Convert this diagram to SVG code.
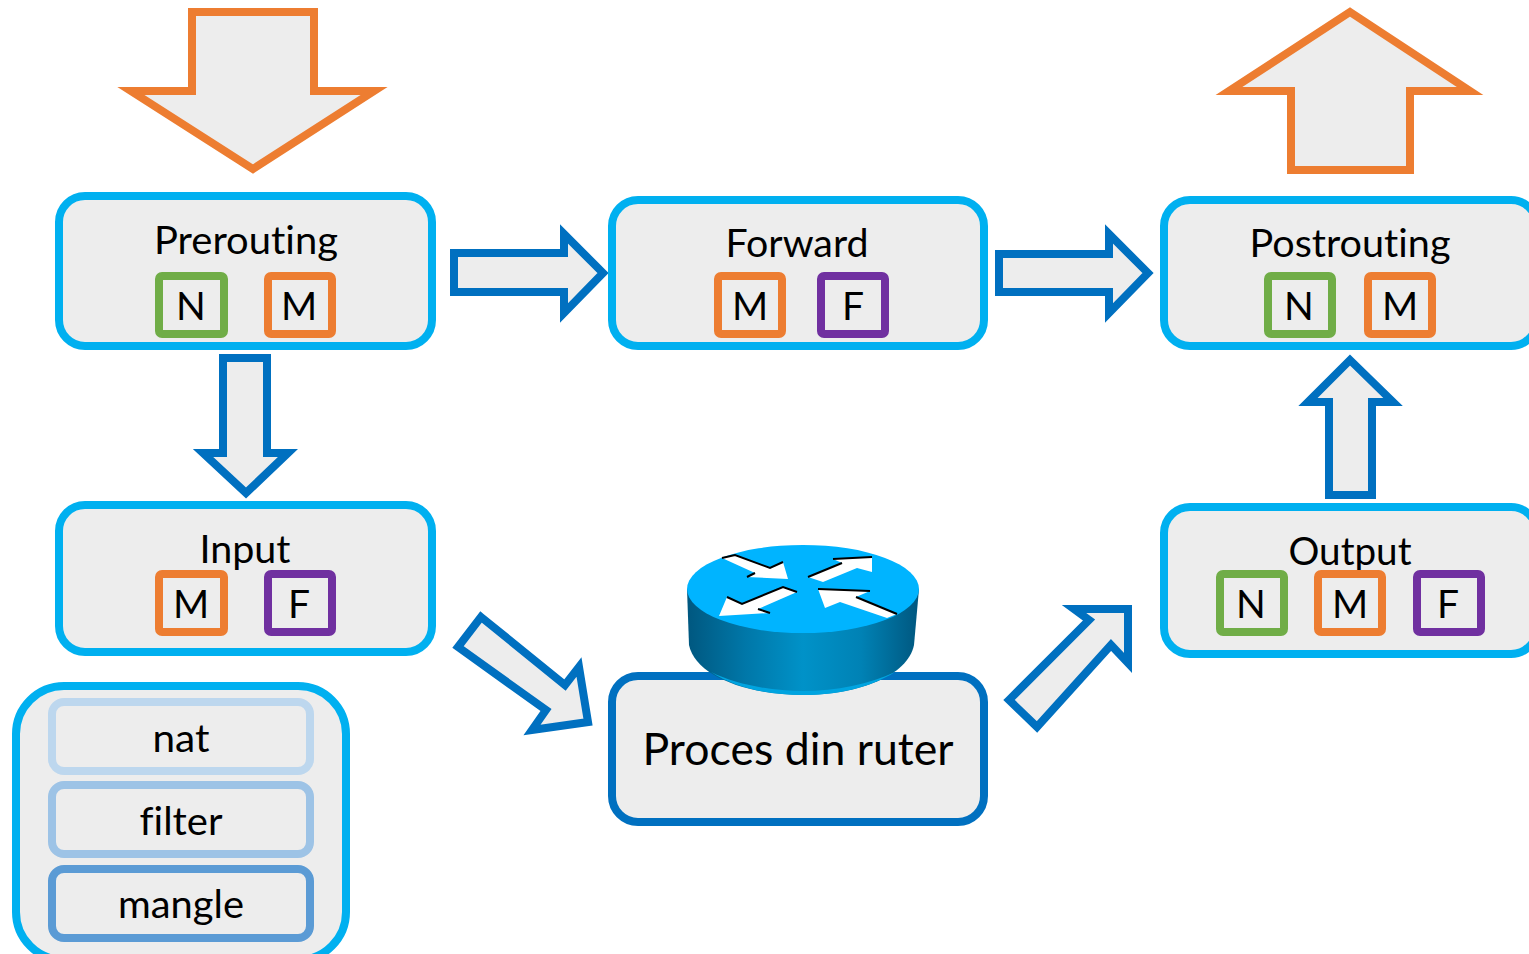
<svg xmlns="http://www.w3.org/2000/svg" width="1529" height="954" viewBox="0 0 1529 954">
<style>
text{font-family:"Lato","Liberation Sans",sans-serif;fill:#000;text-anchor:middle;font-size:39px;font-variant-ligatures:none}
.box{fill:#EDEDED;stroke:#00B0F0;stroke-width:8}
.s{fill:#EDEDED;stroke-width:8}
.n{stroke:#70AD47}.m{stroke:#ED7D31}.f{stroke:#7030A0}
.big{fill:#EDEDED;stroke:#ED7D31;stroke-width:8;stroke-miterlimit:10}
.arr{fill:#EDEDED;stroke:#0070C0;stroke-width:8;stroke-miterlimit:10}
.w{fill:#fff}.k{fill:none;stroke:#000;stroke-width:2}
</style>
<defs><linearGradient id="body" x1="0" x2="1" y1="0" y2="0">
<stop offset="0" stop-color="#00577F"/><stop offset=".25" stop-color="#0077A8"/><stop offset=".5" stop-color="#0092C8"/><stop offset=".75" stop-color="#0082B5"/><stop offset="1" stop-color="#00577F"/></linearGradient></defs>
<rect width="1529" height="954" fill="#fff"/>
<g id="connectors">
<polygon class="big" points="192,12 314,12 314,91 374,91 253,169 131,91 192,91"/>
<polygon class="big" points="1350,12 1470,91 1410,91 1410,170 1291,170 1291,91 1229,91"/>
<polygon class="arr" points="454,253 564,253 564,234 603,273 564,313 564,292 454,292"/>
<polygon class="arr" points="999,254 1109,254 1109,234 1148,273 1109,313 1109,292 999,292"/>
<polygon class="arr" points="223,358 267,358 267,453 288,453 246,493 203,453 223,453"/>
<polygon class="arr" points="1329,495 1372,495 1372,402 1393,402 1350,360 1308,402 1329,402"/>
<polygon class="arr" points="481,617 565,685 579,667 588,722 532,730 546,710 458,647"/>
<polygon class="arr" points="1009,700 1089,620 1074,609 1128,609 1128,663 1111,645 1037,727"/>
</g>
<g id="prerouting"><rect class="box" x="59" y="196" width="373" height="150" rx="26"/>
<text x="246" y="254" textLength="184" lengthAdjust="spacingAndGlyphs">Prerouting</text>
<rect class="s n" x="159" y="276" width="65" height="58" rx="3"/><text x="191" y="320">N</text>
<rect class="s m" x="268" y="276" width="64" height="58" rx="3"/><text x="299" y="320">M</text></g>
<g id="forward"><rect class="box" x="612" y="200" width="372" height="146" rx="26"/>
<text x="797" y="257" textLength="143" lengthAdjust="spacingAndGlyphs">Forward</text>
<rect class="s m" x="718" y="276" width="64" height="58" rx="3"/><text x="750" y="320">M</text>
<rect class="s f" x="821" y="276" width="64" height="58" rx="3"/><text x="853" y="320">F</text></g>
<g id="postrouting"><rect class="box" x="1164" y="200" width="373" height="146" rx="26"/>
<text x="1350" y="257" textLength="201" lengthAdjust="spacingAndGlyphs">Postrouting</text>
<rect class="s n" x="1268" y="276" width="64" height="58" rx="3"/><text x="1299" y="320">N</text>
<rect class="s m" x="1368" y="276" width="64" height="58" rx="3"/><text x="1400" y="320">M</text></g>
<g id="input"><rect class="box" x="59" y="505" width="373" height="147" rx="26"/>
<text x="245" y="563" textLength="91" lengthAdjust="spacingAndGlyphs">Input</text>
<rect class="s m" x="159" y="574" width="65" height="58" rx="3"/><text x="191" y="618">M</text>
<rect class="s f" x="268" y="574" width="64" height="58" rx="3"/><text x="299" y="618">F</text></g>
<g id="output"><rect class="box" x="1164" y="507" width="373" height="147" rx="26"/>
<text x="1350" y="565" textLength="123" lengthAdjust="spacingAndGlyphs">Output</text>
<rect class="s n" x="1220" y="574" width="64" height="58" rx="3"/><text x="1251" y="618">N</text>
<rect class="s m" x="1318" y="574" width="64" height="58" rx="3"/><text x="1350" y="618">M</text>
<rect class="s f" x="1417" y="574" width="64" height="58" rx="3"/><text x="1448" y="618">F</text></g>
<g id="legend"><rect class="box" x="16" y="686" width="330" height="274" rx="48"/>
<rect class="s" style="stroke:#BDD7EE" x="52" y="702" width="258" height="69" rx="12"/><text x="181" y="752" textLength="57" lengthAdjust="spacingAndGlyphs">nat</text>
<rect class="s" style="stroke:#9DC3E6" x="52" y="785" width="258" height="69" rx="12"/><text x="181" y="835" textLength="83" lengthAdjust="spacingAndGlyphs">filter</text>
<rect class="s" style="stroke:#5B9BD5" x="52" y="869" width="258" height="69" rx="12"/><text x="181" y="918" textLength="126" lengthAdjust="spacingAndGlyphs">mangle</text></g>
<g id="proces"><rect class="box" style="stroke:#0070C0" x="612" y="676" width="372" height="146" rx="26"/>
<text x="798" y="765" style="font-size:44px" textLength="311" lengthAdjust="spacingAndGlyphs">Proces din ruter</text></g>
<g id="router">
<path d="M687,589 L689,645 C695,675 745,695 803,695 C860,695 908,675 914,645 L919,589 Z" fill="url(#body)"/>
<path d="M711,672 C735,688 770,695 803,695 C836,695 870,688 895,672 C870,684 836,691 803,691 C770,691 735,684 711,672Z" fill="#00A4E0"/>
<ellipse cx="803" cy="589" rx="116" ry="44" fill="#00B4FF"/>
<polygon class="w" points="722,558 735,555 770,568 783,562 788,579 747,577 755,573"/>
<polyline class="k" points="722,558 735,555 770,568 783,562"/><polyline class="k" points="747,577 755,573"/>
<polygon class="w" points="808,577 842,563 833,559 872,557 872,572 857,568 823,582"/>
<polyline class="k" points="808,577 842,563"/><polyline class="k" points="833,559 872,557"/>
<polygon class="w" points="797,592 783,587 742,604 727,597 719,616 770,613 758,609"/>
<polyline class="k" points="797,592 783,587 742,604 727,597"/><polyline class="k" points="770,613 758,609"/>
<polygon class="w" points="818,589 870,591 856,597 897,614 887,618 840,602 825,608"/>
<polyline class="k" points="818,589 870,591"/><polyline class="k" points="856,597 897,614"/>
</g>
</svg>
